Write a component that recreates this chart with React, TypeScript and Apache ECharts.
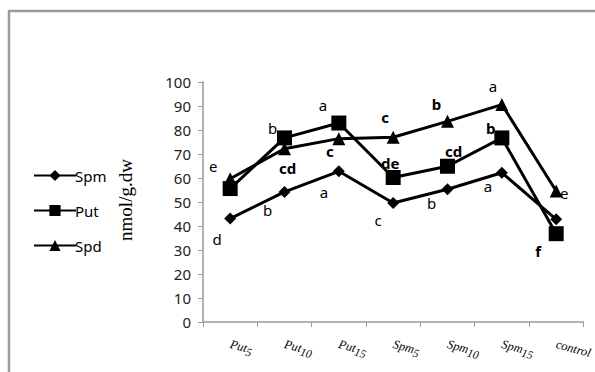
import React, { useEffect, useRef } from "react";
import * as echarts from "echarts";

const categories = ["Put5", "Put10", "Put15", "Spm5", "Spm10", "Spm15", "control"];
const catBase = ["Put", "Put", "Put", "Spm", "Spm", "Spm", "control"];
const catSub = ["5", "10", "15", "5", "10", "15", ""];

const spmValues = [43.1, 54.2, 62.8, 49.6, 55.3, 62.2, 42.8];
const putValues = [55.6, 76.7, 82.9, 60.2, 64.9, 76.7, 36.8];
const spdValues = [59.7, 72.2, 76.4, 77.0, 83.6, 90.6, 54.6];

const spmLetters = ["d", "b", "a", "c", "b", "a", ""];
const putLetters = ["e", "b", "a", "de", "cd", "b", "f"];
const spdLetters = ["", "cd", "c", "c", "b", "a", "e"];

const spmBold = [false, false, false, false, false, false, false];
const putBold = [false, false, false, true, true, true, true];
const spdBold = [false, true, true, true, true, false, false];

const yTicks = { min: 0, max: 100, interval: 10 };

// label offsets (pixels), styling only
const spmOffsets = [[-13, 20], [-17, 18], [-15, 21], [-15, 17], [-16, 14], [-14, 13], [0, 0]];
const putOffsets = [[-17, -23], [-12, -10], [-16, -18], [-3, -15], [6, -15], [-11, -10], [-18, 17]];
const spdOffsets = [[0, 0], [3, 19], [-9, 12], [-8, -20], [-11, -17], [-9, -19], [8, 2]];

function buildData(values: number[], letters: string[], bold: boolean[], offs: number[][]) {
  return values.map((v, i) => ({
    value: v,
    label: {
      show: letters[i] !== "",
      formatter: letters[i],
      position: "inside",
      offset: offs[i],
      fontSize: 15,
      fontFamily: "Noto Sans",
      fontWeight: bold[i] ? "bold" : "normal",
      color: "#000",
    },
  }));
}

export default function App() {
  const ref = useRef<HTMLDivElement>(null);
  useEffect(() => {
    const chart = echarts.init(ref.current!, null, { renderer: "svg" });
    const lineCommon = {
      type: "line",
      lineStyle: { color: "#000", width: 3 },
      itemStyle: { color: "#000" },
      emphasis: { disabled: true },
      z: 3,
    };
    chart.setOption({
      animation: false,
      backgroundColor: "#fff",
      grid: { left: 203, right: 9, top: 82, bottom: 50 },
      legend: {
        orient: "vertical",
        left: 28,
        top: 163,
        itemWidth: 42,
        itemHeight: 14,
        itemGap: 20,
        textStyle: { fontSize: 15, fontFamily: "Noto Sans", color: "#000", padding: [0, 0, 0, -6] },
        data: ["Spm", "Put", "Spd"],
      },
      xAxis: {
        type: "category",
        data: categories,
        boundaryGap: true,
        axisLine: { lineStyle: { color: "#999", width: 1.5 } },
        axisTick: { show: true, length: 5, lineStyle: { color: "#999" } },
        axisLabel: {
          rotate: -15,
          margin: 22,
          interval: 0,
          formatter: (_v: string, i: number) =>
            catSub[i] ? `{a|${catBase[i]}}{b|${catSub[i]}}` : `{a|${catBase[i]}}`,
          rich: {
            a: { fontFamily: "Liberation Serif", fontStyle: "italic", fontSize: 12.5, color: "#000" },
            b: { fontFamily: "Liberation Serif", fontStyle: "italic", fontSize: 11.5, color: "#000", padding: [6, 0, 0, 0] },
          },
        },
      },
      yAxis: {
        type: "value",
        min: yTicks.min,
        max: yTicks.max,
        interval: yTicks.interval,
        splitLine: { show: false },
        axisLine: { show: true, lineStyle: { color: "#999", width: 1.5 } },
        axisTick: { show: true, length: 5, inside: false, lineStyle: { color: "#999" } },
        axisLabel: { fontSize: 15, fontFamily: "Noto Sans", color: "#222", margin: 12 },
      },
      graphic: [
        {
          type: "rect",
          shape: { x: 9, y: 11, width: 700, height: 500 },
          style: { fill: "none", stroke: "#9a9a9a", lineWidth: 2.5 },
          silent: true,
        },
        {
          type: "text",
          x: 125,
          y: 200,
          rotation: Math.PI / 2,
          style: {
            text: "nmol/g.dw",
            font: "19px 'Liberation Serif'",
            fill: "#000",
            align: "center",
            verticalAlign: "middle",
          },
        },
      ],
      series: [
        {
          ...lineCommon,
          name: "Spm",
          symbol: "diamond",
          symbolSize: 12,
          data: buildData(spmValues, spmLetters, spmBold, spmOffsets),
        },
        {
          ...lineCommon,
          name: "Put",
          symbol: "rect",
          symbolSize: 15,
          data: buildData(putValues, putLetters, putBold, putOffsets),
        },
        {
          ...lineCommon,
          name: "Spd",
          symbol: "triangle",
          symbolSize: 13,
          data: buildData(spdValues, spdLetters, spdBold, spdOffsets),
        },
      ],
    });
    return () => chart.dispose();
  }, []);
  return (
    <div
      ref={ref}
      style={{ position: "fixed", left: 0, top: 0, width: 595, height: 372 }}
    />
  );
}
